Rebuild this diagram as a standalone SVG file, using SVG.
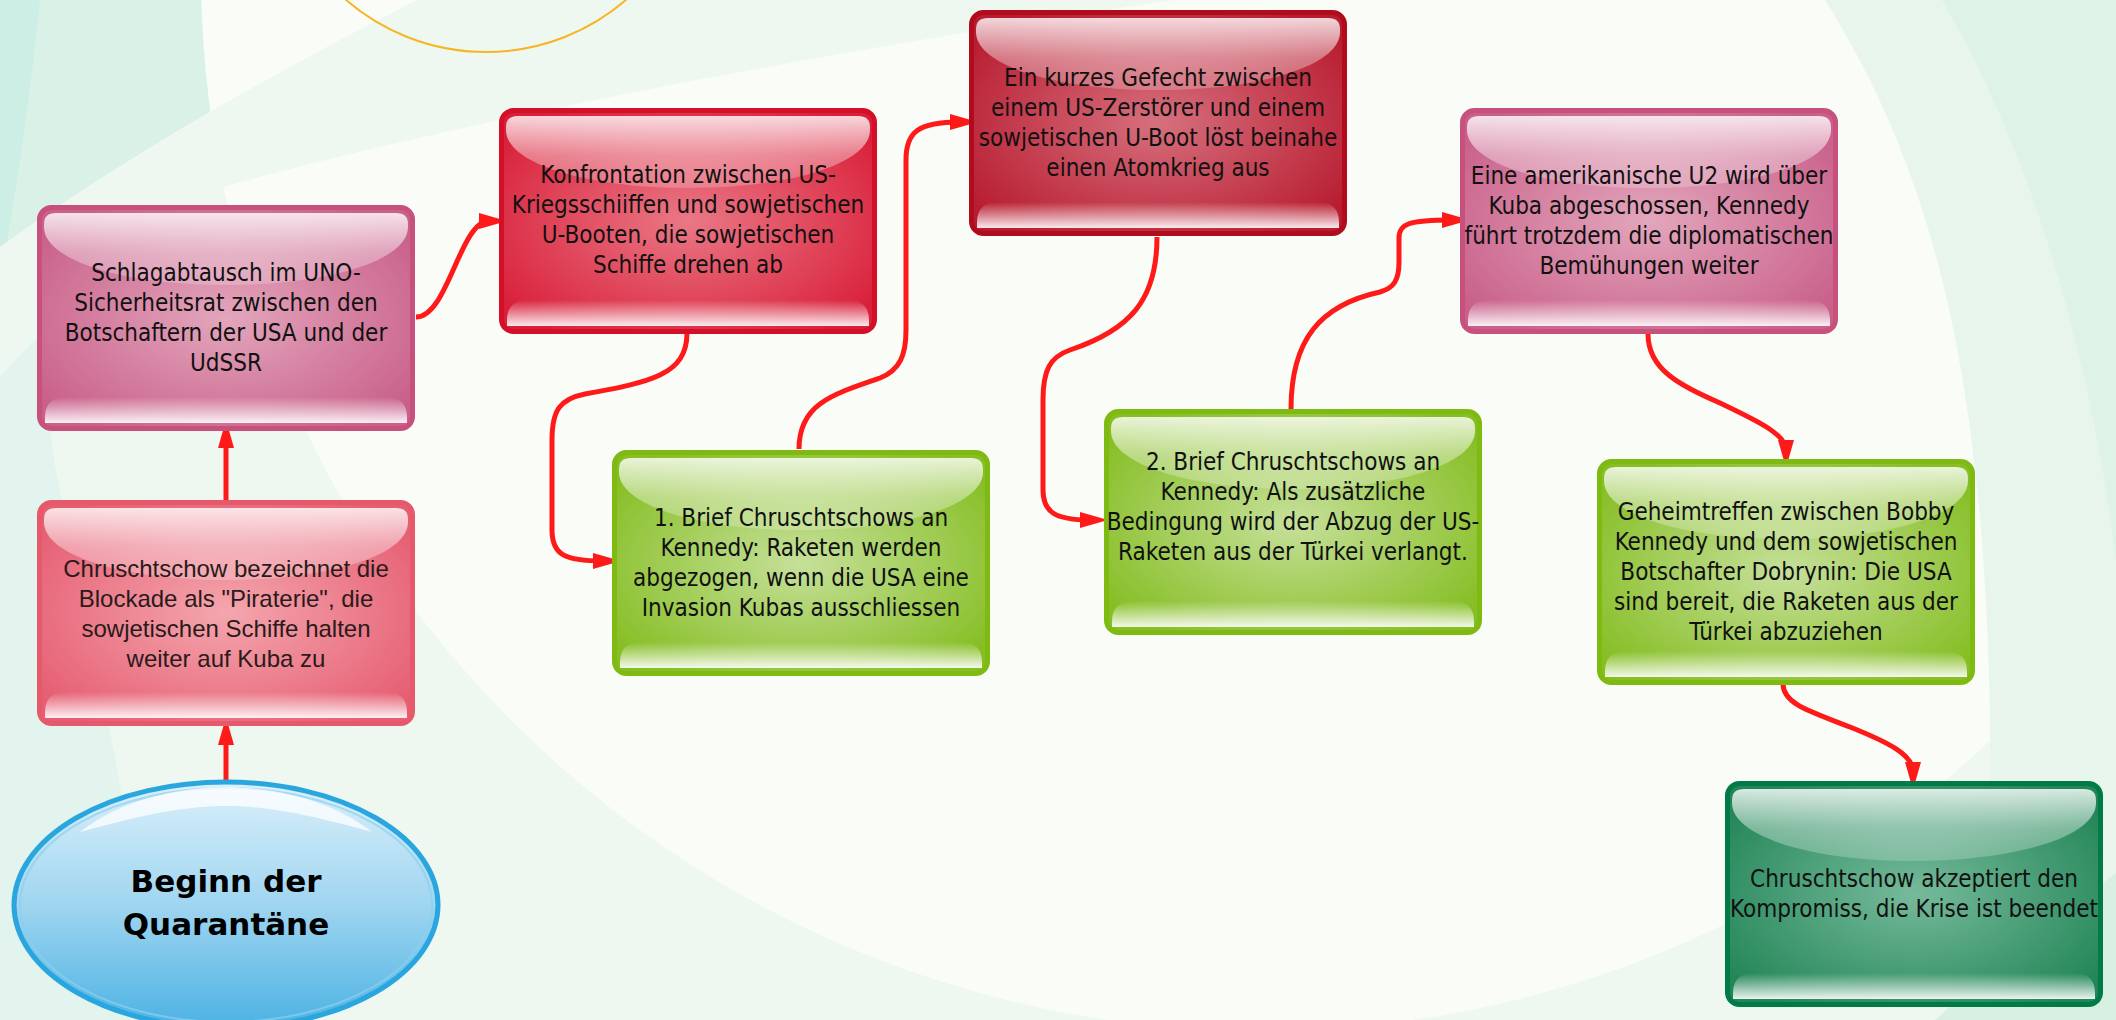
<svg xmlns="http://www.w3.org/2000/svg" xmlns:xlink="http://www.w3.org/1999/xlink" width="2116" height="1020" viewBox="0 0 2116 1020">
<style>
.t{font-family:"DejaVu Sans Condensed","DejaVu Sans",sans-serif;font-stretch:condensed;font-size:24px;text-anchor:middle;fill:#111}
.ta{font-family:"Liberation Sans",Arial,sans-serif;font-size:24px;text-anchor:middle;fill:#2a1a1a}
.tb{font-family:"DejaVu Sans",sans-serif;font-weight:bold;font-size:31px;text-anchor:middle;fill:#000}
.c{fill:none;stroke:#ff1a1a;stroke-width:5;marker-end:url(#ah)}
.box{stroke-width:5}
</style>
<defs>
<marker id="ah" markerUnits="userSpaceOnUse" markerWidth="28" markerHeight="16" refX="10" refY="8" orient="auto"><path d="M0,0 L28,8 L0,16 z" fill="#ff1a1a"/></marker>
<radialGradient id="gPink" cx="50%" cy="50%" r="62%"><stop offset="0" stop-color="#e3a6bc"/><stop offset="1" stop-color="#c9608a"/></radialGradient>
<radialGradient id="gLred" cx="50%" cy="50%" r="62%"><stop offset="0" stop-color="#f4a6ae"/><stop offset="1" stop-color="#e65e72"/></radialGradient>
<radialGradient id="gRed" cx="50%" cy="50%" r="62%"><stop offset="0" stop-color="#ea7886"/><stop offset="1" stop-color="#d9203a"/></radialGradient>
<radialGradient id="gDred" cx="50%" cy="50%" r="62%"><stop offset="0" stop-color="#d6707e"/><stop offset="1" stop-color="#b81c30"/></radialGradient>
<radialGradient id="gGreen" cx="50%" cy="50%" r="62%"><stop offset="0" stop-color="#c6e09a"/><stop offset="1" stop-color="#86be24"/></radialGradient>
<radialGradient id="gDgreen" cx="50%" cy="50%" r="62%"><stop offset="0" stop-color="#76ba9c"/><stop offset="1" stop-color="#238658"/></radialGradient>
<linearGradient id="gTop" x1="0" y1="0" x2="0" y2="1"><stop offset="0" stop-color="#fff" stop-opacity="0.82"/><stop offset="0.55" stop-color="#fff" stop-opacity="0.38"/><stop offset="1" stop-color="#fff" stop-opacity="0.2"/></linearGradient>
<linearGradient id="gBot" x1="0" y1="0" x2="0" y2="1"><stop offset="0" stop-color="#fff" stop-opacity="0"/><stop offset="1" stop-color="#fff" stop-opacity="0.9"/></linearGradient>
<linearGradient id="gEll" x1="0" y1="0" x2="0" y2="1"><stop offset="0" stop-color="#dcf0fa"/><stop offset="0.5" stop-color="#9fd5f0"/><stop offset="1" stop-color="#4cb2e3"/></linearGradient>
<g id="gloss">
<path d="M7,22 L7,19 Q7,8 19,8 L359,8 Q371,8 371,19 L371,22 C371,56 290,80 189,80 C88,80 7,56 7,22 Z" fill="url(#gTop)"/>
<path d="M8,218 L8,212 Q8,192 30,192 L348,192 Q370,192 370,212 L370,218 Z" fill="url(#gBot)"/>
</g>
</defs>

<g id="background">
<rect width="2116" height="1020" fill="#eef8f0"/>
<path d="M0,0 L60,0 C45,200 40,400 58,480 C80,600 110,700 160,1020 L0,1020 Z" fill="#e2f4ed"/>
<path d="M0,0 L417,0 C260,80 120,160 0,247 Z" fill="#d9f1e7"/>
<path d="M0,0 L40,0 C30,100 15,200 0,280 Z" fill="#cdeee5"/>
<circle cx="1261" cy="-29" r="1060" fill="#f9fcf7"/>
<path d="M417,0 L1174,0 C900,40 500,110 223,187 C140,240 60,310 0,377 L0,247 C120,160 260,80 417,0 Z" fill="#eef8f0"/>
<path d="M1825,0 C1950,200 2010,450 1985,1020 L2116,1020 L2116,0 Z" fill="#e8f5ec"/>
<path d="M1942,0 C2030,150 2090,350 2116,560 L2116,0 Z" fill="#def2e7"/>
<path d="M2116,873 C2040,930 1980,980 1935,1020 L2116,1020 Z" fill="#d8f0e2"/>
<circle cx="486" cy="-162" r="214" fill="none" stroke="#f7b521" stroke-width="2"/>
</g>

<g id="connectors">
<path class="c" d="M226,780 L226,735"/>
<path class="c" d="M226,500 L226,438"/>
<path class="c" d="M416,317 C448,317 460,221 489,221"/>
<path class="c" d="M687,333 C687,375 650,382 585,394 C560,399 552,410 552,440 L552,530 C552,555 565,561 603,561"/>
<path class="c" d="M799,449 C799,405 830,395 880,378 C900,370 906,355 906,330 L906,160 C906,132 918,122 960,122"/>
<path class="c" d="M1157,237 C1157,300 1130,330 1070,350 C1050,357 1043,370 1043,400 L1043,490 C1043,512 1055,520 1090,520"/>
<path class="c" d="M1291,409 C1291,340 1320,305 1380,292 C1394,288 1399,280 1399,262 L1399,238 C1399,224 1408,220 1452,220"/>
<path class="c" d="M1648,334 C1648,370 1680,385 1720,403 C1760,422 1786,435 1786,450"/>
<path class="c" d="M1783,684 C1783,705 1815,713 1850,727 C1890,743 1913,755 1913,772"/>
</g>

<g id="n-start">
<ellipse cx="226" cy="905" rx="212" ry="123" fill="url(#gEll)" stroke="#2aa6df" stroke-width="5"/>
<ellipse cx="226" cy="905" rx="206" ry="117" fill="none" stroke="#8ad0f0" stroke-width="2" opacity="0.7"/>
<path d="M80,832 C120,800 180,787 226,787 C272,787 332,800 372,832 C300,812 260,806 226,806 C192,806 152,812 80,832 Z" fill="#fff" opacity="0.75"/>
<text class="tb" x="226" y="892">Beginn der</text>
<text class="tb" x="226" y="935">Quarantäne</text>
</g>

<g id="n-schlag" transform="translate(37,205)">
<rect class="box" x="2.5" y="2.5" width="373" height="221" rx="12" fill="url(#gPink)" stroke="#c8507c"/>
<use href="#gloss"/>
<text class="t" x="189" y="76">Schlagabtausch im UNO-</text>
<text class="t" x="189" y="106">Sicherheitsrat zwischen den</text>
<text class="t" x="189" y="136">Botschaftern der USA und der</text>
<text class="t" x="189" y="166">UdSSR</text>
</g>

<g id="n-chrus" transform="translate(37,500)">
<rect class="box" x="2.5" y="2.5" width="373" height="221" rx="12" fill="url(#gLred)" stroke="#e5596a"/>
<use href="#gloss"/>
<text class="ta" x="189" y="77">Chruschtschow bezeichnet die</text>
<text class="ta" x="189" y="107">Blockade als "Piraterie", die</text>
<text class="ta" x="189" y="137">sowjetischen Schiffe halten</text>
<text class="ta" x="189" y="167">weiter auf Kuba zu</text>
</g>

<g id="n-konf" transform="translate(499,108)">
<rect class="box" x="2.5" y="2.5" width="373" height="221" rx="12" fill="url(#gRed)" stroke="#d41028"/>
<use href="#gloss"/>
<text class="t" x="189" y="75">Konfrontation zwischen US-</text>
<text class="t" x="189" y="105">Kriegsschiiffen und sowjetischen</text>
<text class="t" x="189" y="135">U-Booten, die sowjetischen</text>
<text class="t" x="189" y="165">Schiffe drehen ab</text>
</g>

<g id="n-gef" transform="translate(969,10)">
<rect class="box" x="2.5" y="2.5" width="373" height="221" rx="12" fill="url(#gDred)" stroke="#b00c1e"/>
<use href="#gloss"/>
<text class="t" x="189" y="76">Ein kurzes Gefecht zwischen</text>
<text class="t" x="189" y="106">einem US-Zerstörer und einem</text>
<text class="t" x="189" y="136">sowjetischen U-Boot löst beinahe</text>
<text class="t" x="189" y="166">einen Atomkrieg aus</text>
</g>

<g id="n-brief1" transform="translate(612,450)">
<rect class="box" x="2.5" y="2.5" width="373" height="221" rx="12" fill="url(#gGreen)" stroke="#7fba12"/>
<use href="#gloss"/>
<text class="t" x="189" y="76">1. Brief Chruschtschows an</text>
<text class="t" x="189" y="106">Kennedy: Raketen werden</text>
<text class="t" x="189" y="136">abgezogen, wenn die USA eine</text>
<text class="t" x="189" y="166">Invasion Kubas ausschliessen</text>
</g>

<g id="n-brief2" transform="translate(1104,409)">
<rect class="box" x="2.5" y="2.5" width="373" height="221" rx="12" fill="url(#gGreen)" stroke="#7fba12"/>
<use href="#gloss"/>
<text class="t" x="189" y="61">2. Brief Chruschtschows an</text>
<text class="t" x="189" y="91">Kennedy: Als zusätzliche</text>
<text class="t" x="189" y="121">Bedingung wird der Abzug der US-</text>
<text class="t" x="189" y="151">Raketen aus der Türkei verlangt.</text>
</g>

<g id="n-u2" transform="translate(1460,108)">
<rect class="box" x="2.5" y="2.5" width="373" height="221" rx="12" fill="url(#gPink)" stroke="#c8507c"/>
<use href="#gloss"/>
<text class="t" x="189" y="76">Eine amerikanische U2 wird über</text>
<text class="t" x="189" y="106">Kuba abgeschossen, Kennedy</text>
<text class="t" x="189" y="136">führt trotzdem die diplomatischen</text>
<text class="t" x="189" y="166">Bemühungen weiter</text>
</g>

<g id="n-geheim" transform="translate(1597,459)">
<rect class="box" x="2.5" y="2.5" width="373" height="221" rx="12" fill="url(#gGreen)" stroke="#7fba12"/>
<use href="#gloss"/>
<text class="t" x="189" y="61">Geheimtreffen zwischen Bobby</text>
<text class="t" x="189" y="91">Kennedy und dem sowjetischen</text>
<text class="t" x="189" y="121">Botschafter Dobrynin: Die USA</text>
<text class="t" x="189" y="151">sind bereit, die Raketen aus der</text>
<text class="t" x="189" y="181">Türkei abzuziehen</text>
</g>

<g id="n-akz" transform="translate(1725,781)">
<rect class="box" x="2.5" y="2.5" width="373" height="221" rx="12" fill="url(#gDgreen)" stroke="#007a46"/>
<use href="#gloss"/>
<text class="t" x="189" y="106">Chruschtschow akzeptiert den</text>
<text class="t" x="189" y="136">Kompromiss, die Krise ist beendet</text>
</g>
</svg>
